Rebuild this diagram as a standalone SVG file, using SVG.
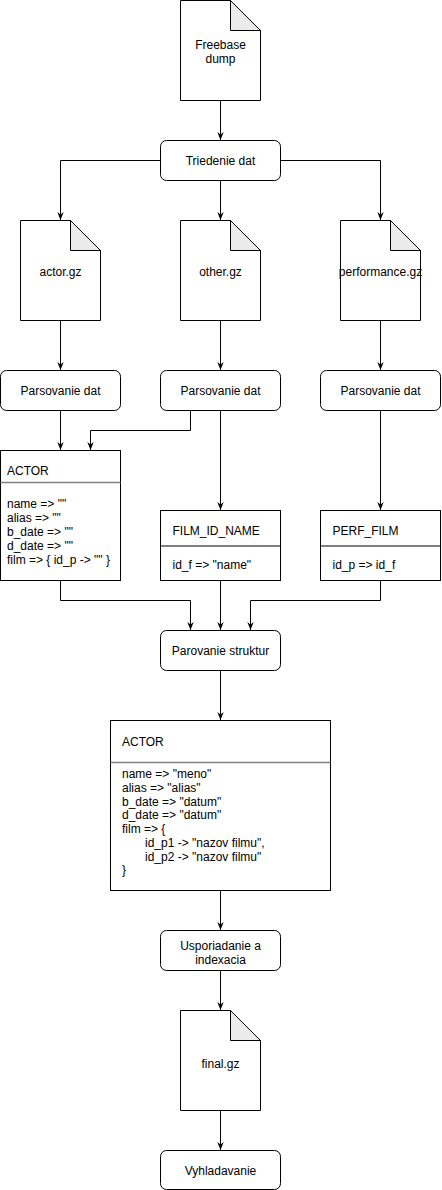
<svg xmlns="http://www.w3.org/2000/svg" width="442" height="1190" viewBox="0 0 442 1190">
<style>
.s{fill:#fff;stroke:#000;stroke-width:1}
.f{fill:#ebebeb;stroke:#000;stroke-width:1}
.c{fill:none;stroke:#000;stroke-width:1}
.sep{fill:none;stroke:#808080;stroke-width:1.5}
text{font-family:"Liberation Sans",Arial,sans-serif;font-size:12px;fill:#000}
.m{text-anchor:middle}
</style>
<defs>
<marker id="a" viewBox="0 0 10 10" refX="10" refY="5" markerWidth="8" markerHeight="8" orient="auto" markerUnits="userSpaceOnUse">
<path d="M0,1 L10,5 L0,9 L3,5 z" fill="#000"/>
</marker>
</defs>
<g id="connectors">
<path class="c" d="M220.5,100.5 V140" marker-end="url(#a)"/>
<path class="c" d="M160,160.5 H60.5 V220" marker-end="url(#a)"/>
<path class="c" d="M220.5,180.5 V220" marker-end="url(#a)"/>
<path class="c" d="M280,160.5 H380.5 V220" marker-end="url(#a)"/>
<path class="c" d="M60.5,320.5 V370" marker-end="url(#a)"/>
<path class="c" d="M220.5,320.5 V370" marker-end="url(#a)"/>
<path class="c" d="M380.5,320.5 V370" marker-end="url(#a)"/>
<path class="c" d="M60.5,410.5 V450" marker-end="url(#a)"/>
<path class="c" d="M190.5,410.5 V430.5 H90.5 V450" marker-end="url(#a)"/>
<path class="c" d="M220.5,410.5 V510" marker-end="url(#a)"/>
<path class="c" d="M380.5,410.5 V510" marker-end="url(#a)"/>
<path class="c" d="M60.5,580.5 V600.5 H190.5 V630" marker-end="url(#a)"/>
<path class="c" d="M220.5,580.5 V630" marker-end="url(#a)"/>
<path class="c" d="M380.5,580.5 V600.5 H250.5 V630" marker-end="url(#a)"/>
<path class="c" d="M220.5,670.5 V720" marker-end="url(#a)"/>
<path class="c" d="M220.5,890.5 V930" marker-end="url(#a)"/>
<path class="c" d="M220.5,970.5 V1010" marker-end="url(#a)"/>
<path class="c" d="M220.5,1110.5 V1150" marker-end="url(#a)"/>
</g>
<g id="freebase">
<path class="s" d="M180.5,0.5 H230.5 L260.5,30.5 V100.5 H180.5 Z"/>
<path class="f" d="M230.5,0.5 V30.5 H260.5 Z"/>
<text class="m" x="220.5" y="49">Freebase</text>
<text class="m" x="220.5" y="63">dump</text>
</g>
<g id="triedenie">
<rect class="s" x="160.5" y="140.5" width="120" height="40" rx="6"/>
<text class="m" x="220.5" y="164.5">Triedenie dat</text>
</g>
<g id="actor-gz">
<path class="s" d="M20.5,220.5 H70.5 L100.5,250.5 V320.5 H20.5 Z"/>
<path class="f" d="M70.5,220.5 V250.5 H100.5 Z"/>
<text class="m" x="60.5" y="275.5">actor.gz</text>
</g>
<g id="other-gz">
<path class="s" d="M180.5,220.5 H230.5 L260.5,250.5 V320.5 H180.5 Z"/>
<path class="f" d="M230.5,220.5 V250.5 H260.5 Z"/>
<text class="m" x="220.5" y="275.5">other.gz</text>
</g>
<g id="performance-gz">
<path class="s" d="M340.5,220.5 H390.5 L420.5,250.5 V320.5 H340.5 Z"/>
<path class="f" d="M390.5,220.5 V250.5 H420.5 Z"/>
<text class="m" x="380.5" y="275.5">performance.gz</text>
</g>
<g id="parse1">
<rect class="s" x="0.5" y="370.5" width="120" height="40" rx="6"/>
<text class="m" x="60.5" y="394.5">Parsovanie dat</text>
</g>
<g id="parse2">
<rect class="s" x="160.5" y="370.5" width="120" height="40" rx="6"/>
<text class="m" x="220.5" y="394.5">Parsovanie dat</text>
</g>
<g id="parse3">
<rect class="s" x="320.5" y="370.5" width="120" height="40" rx="6"/>
<text class="m" x="380.5" y="394.5">Parsovanie dat</text>
</g>
<g id="actor1">
<rect class="s" x="0.5" y="450.5" width="120" height="130"/>
<line class="sep" x1="0.5" y1="482.5" x2="120.5" y2="482.5"/>
<text x="7" y="475">ACTOR</text>
<text x="7" y="507.5">name =&gt; ""</text>
<text x="7" y="521.7">alias =&gt; ""</text>
<text x="7" y="535.9">b_date =&gt; ""</text>
<text x="7" y="550.1">d_date =&gt; ""</text>
<text x="7" y="564.3">film =&gt; { id_p -&gt; "" }</text>
</g>
<g id="film-id-name">
<rect class="s" x="160.5" y="510.5" width="120" height="70"/>
<line class="c" x1="160.5" y1="546" x2="280.5" y2="546"/>
<text x="172.5" y="535">FILM_ID_NAME</text>
<text x="172.5" y="568.5">id_f =&gt; "name"</text>
</g>
<g id="perf-film">
<rect class="s" x="320.5" y="510.5" width="120" height="70"/>
<line class="c" x1="320.5" y1="546" x2="440.5" y2="546"/>
<text x="332.5" y="535">PERF_FILM</text>
<text x="332.5" y="568.5">id_p =&gt; id_f</text>
</g>
<g id="parovanie">
<rect class="s" x="160.5" y="630.5" width="120" height="40" rx="6"/>
<text class="m" x="220.5" y="654.5">Parovanie struktur</text>
</g>
<g id="actor2">
<rect class="s" x="110.5" y="720.5" width="220" height="170"/>
<line class="sep" x1="110.5" y1="762.5" x2="330.5" y2="762.5"/>
<text x="122" y="746">ACTOR</text>
<text x="122" y="778.3">name =&gt; "meno"</text>
<text x="122" y="792">alias =&gt; "alias"</text>
<text x="122" y="805.7">b_date =&gt; "datum"</text>
<text x="122" y="819.4">d_date =&gt; "datum"</text>
<text x="122" y="833.1">film =&gt; {</text>
<text x="145" y="846.8">id_p1 -&gt; "nazov filmu",</text>
<text x="145" y="860.5">id_p2 -&gt; "nazov filmu"</text>
<text x="122" y="874.2">}</text>
</g>
<g id="usporiadanie">
<rect class="s" x="160.5" y="930.5" width="120" height="40" rx="6"/>
<text class="m" x="220.5" y="949.5">Usporiadanie a</text>
<text class="m" x="220.5" y="963.5">indexacia</text>
</g>
<g id="final-gz">
<path class="s" d="M180.5,1010.5 H230.5 L260.5,1040.5 V1110.5 H180.5 Z"/>
<path class="f" d="M230.5,1010.5 V1040.5 H260.5 Z"/>
<text class="m" x="220.5" y="1067.5">final.gz</text>
</g>
<g id="vyhladavanie">
<rect class="s" x="160.5" y="1150.5" width="120" height="39" rx="6"/>
<text class="m" x="220.5" y="1174.5">Vyhladavanie</text>
</g>
</svg>
